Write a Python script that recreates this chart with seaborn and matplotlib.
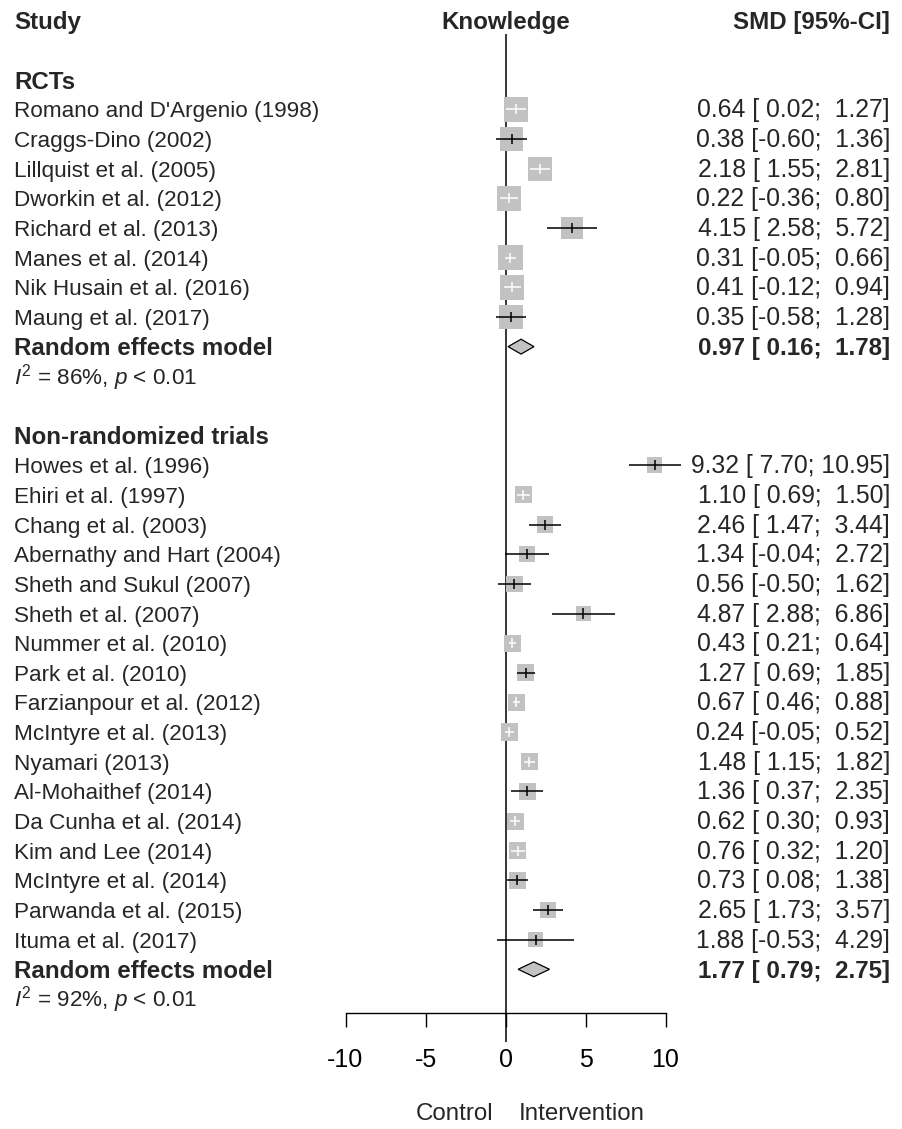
import numpy as np
import pandas as pd
import matplotlib
matplotlib.use("Agg")
import matplotlib.pyplot as plt
import matplotlib.transforms as mtransforms
import seaborn as sns

# ---------------- data ----------------
column_headers = ["Study", "Knowledge", "SMD [95%-CI]"]
group_labels = ["RCTs", "Non-randomized trials"]

rct_studies = ["Romano and D'Argenio (1998)", "Craggs-Dino (2002)", "Lillquist et al. (2005)",
               "Dworkin et al. (2012)", "Richard et al. (2013)", "Manes et al. (2014)",
               "Nik Husain et al. (2016)", "Maung et al. (2017)"]
rct_smd = [0.64, 0.38, 2.18, 0.22, 4.15, 0.31, 0.41, 0.35]
rct_lower = [0.02, -0.60, 1.55, -0.36, 2.58, -0.05, -0.12, -0.58]
rct_upper = [1.27, 1.36, 2.81, 0.80, 5.72, 0.66, 0.94, 1.28]
rct_weight = [12.9, 12.2, 12.7, 12.9, 11.0, 13.2, 13.0, 12.1]
rct_pooled = [0.97, 0.16, 1.78]
rct_i2 = "86%"
rct_p = "< 0.01"

nrt_studies = ["Howes et al. (1996)", "Ehiri et al. (1997)", "Chang et al. (2003)",
               "Abernathy and Hart (2004)", "Sheth and Sukul (2007)", "Sheth et al. (2007)",
               "Nummer et al. (2010)", "Park et al. (2010)", "Farzianpour et al. (2012)",
               "McIntyre et al. (2013)", "Nyamari (2013)", "Al-Mohaithef (2014)",
               "Da Cunha et al. (2014)", "Kim and Lee (2014)", "McIntyre et al. (2014)",
               "Parwanda et al. (2015)", "Ituma et al. (2017)"]
nrt_smd = [9.32, 1.10, 2.46, 1.34, 0.56, 4.87, 0.43, 1.27, 0.67, 0.24, 1.48, 1.36,
           0.62, 0.76, 0.73, 2.65, 1.88]
nrt_lower = [7.70, 0.69, 1.47, -0.04, -0.50, 2.88, 0.21, 0.69, 0.46, -0.05, 1.15, 0.37,
             0.30, 0.32, 0.08, 1.73, -0.53]
nrt_upper = [10.95, 1.50, 3.44, 2.72, 1.62, 6.86, 0.64, 1.85, 0.88, 0.52, 1.82, 2.35,
             0.93, 1.20, 1.38, 3.57, 4.29]
nrt_weight = [5.2, 6.3, 5.8, 5.6, 5.7, 4.8, 6.4, 6.1, 6.4, 6.4, 6.3, 5.9, 6.3, 6.2,
              6.0, 5.9, 5.0]
nrt_pooled = [1.77, 0.79, 2.75]
nrt_i2 = "92%"
nrt_p = "< 0.01"

x_ticks = [-10, -5, 0, 5, 10]
x_label_left = "Control"
x_label_right = "Intervention"

# ---------------- style ----------------
sns.set_style("white")
plt.rcParams["font.family"] = ["Liberation Sans", "DejaVu Sans"]
plt.rcParams["mathtext.fontset"] = "custom"
plt.rcParams["mathtext.rm"] = "Liberation Sans"
plt.rcParams["mathtext.it"] = "Liberation Sans:italic"
plt.rcParams["axes.unicode_minus"] = False

W, H, DPI = 902, 1129, 100
ROW0, ROWH = 20.5, 29.65          # pixel centre of row 0, row height
AXIS_PX = 1013                    # pixel y of x-axis line
X0_PX, X1_PX = 345.5, 665.5       # pixel x of -10 and 10
FS = 16.2
FSB = 17.4
FSN = 17.8
FST = 18.0
FSC = 17.4
GRAY = "#C2C2C2"
PX_PER_UNIT = (X1_PX - X0_PX) / 20.0
BOX_K = 6.8                       # px per sqrt(weight)


def row_of_px(py):
    return (py - ROW0) / ROWH


# ---------------- build rows ----------------
groups = [
    (group_labels[0], rct_studies, rct_smd, rct_lower, rct_upper, rct_weight, rct_pooled, rct_i2, rct_p),
    (group_labels[1], nrt_studies, nrt_smd, nrt_lower, nrt_upper, nrt_weight, nrt_pooled, nrt_i2, nrt_p),
]
recs, pooled_recs, label_recs = [], [], []
r = 2
for gname, st, est, lo, hi, w, pooled, i2, p in groups:
    label_recs.append((r, gname))
    r += 1
    for s, e, l, h, ww in zip(st, est, lo, hi, w):
        recs.append(dict(study=s, smd=e, lower=l, upper=h, weight=ww, row=r))
        r += 1
    pooled_recs.append(dict(smd=pooled[0], lower=pooled[1], upper=pooled[2], row=r, i2=i2, p=p))
    r += 3

df = pd.DataFrame(recs)
df["box_px"] = BOX_K * np.sqrt(df["weight"])
df["box_pt"] = df["box_px"] * 72.0 / DPI
ci_px = (df["upper"] - df["lower"]) * PX_PER_UNIT
df["ci_col"] = np.where(ci_px <= df["box_px"], "white", "black")

# ---------------- figure ----------------
fig = plt.figure(figsize=(W / DPI, H / DPI), dpi=DPI)
ax = fig.add_axes([X0_PX / W, (H - AXIS_PX) / H, (X1_PX - X0_PX) / W, AXIS_PX / H])
ax.patch.set_visible(False)
ax.set_xlim(-10, 10)
ax.set_ylim(row_of_px(AXIS_PX), row_of_px(0))

# reference line
ax.vlines(0, row_of_px(34), row_of_px(1042), color="black", lw=1.1, zorder=1, clip_on=False)

# study squares
size_map = {v: v ** 2 for v in df["box_pt"]}
sns.scatterplot(data=df, x="smd", y="row", size="box_pt", sizes=size_map, marker="s",
                color=GRAY, linewidth=0, legend=False, ax=ax, zorder=3, clip_on=False)

# CIs and point ticks
ax.hlines(df["row"], df["lower"], df["upper"], colors=df["ci_col"], lw=1.1, zorder=4, clip_on=False)
ax.vlines(df["smd"], df["row"] - 0.17, df["row"] + 0.17, colors=df["ci_col"], lw=1.1,
          zorder=4, clip_on=False)

# pooled diamonds
for pr in pooled_recs:
    hh = 0.25
    ax.fill([pr["lower"], pr["smd"], pr["upper"], pr["smd"]],
            [pr["row"], pr["row"] - hh, pr["row"], pr["row"] + hh],
            facecolor=GRAY, edgecolor="black", lw=0.9, zorder=3, clip_on=False)

# axis
sns.despine(ax=ax, left=True, top=True, right=True)
ax.spines["bottom"].set_bounds(-10, 10)
ax.spines["bottom"].set_linewidth(1.0)
ax.spines["bottom"].set_color("black")
ax.set_xticks(x_ticks)
ax.set_xticklabels([str(t) for t in x_ticks])
ax.set_yticks([])
ax.tick_params(axis="x", bottom=True, direction="out", length=10, width=1.0, pad=15,
               labelsize=FST, colors="black")
ax.set_xlabel("")
ax.set_ylabel("")

# ---------------- text ----------------
tr = mtransforms.blended_transform_factory(fig.transFigure, ax.transData)
XL = 14 / W
XR = 890 / W
BREG = 8.0 / ROWH
BBOLD = 8.8 / ROWH

ax.text(XL, 0 + BBOLD, column_headers[0], transform=tr, ha="left", va="baseline",
        fontsize=FSB, fontweight="bold", clip_on=False)
ax.text(0, 0 + BBOLD, column_headers[1], ha="center", va="baseline",
        fontsize=FSB, fontweight="bold", clip_on=False)
ax.text(XR, 0 + BBOLD, column_headers[2], transform=tr, ha="right", va="baseline",
        fontsize=FSB, fontweight="bold", clip_on=False)

for rr, lab in label_recs:
    ax.text(XL, rr + BBOLD, lab, transform=tr, ha="left", va="baseline",
            fontsize=FSB, fontweight="bold", clip_on=False)

for _, rec in df.iterrows():
    ax.text(XL, rec["row"] + BREG, rec["study"], transform=tr, ha="left", va="baseline",
            fontsize=FS, clip_on=False)
    ax.text(XR, rec["row"] + BREG,
            f"{rec['smd']:.2f} [{rec['lower']:5.2f}; {rec['upper']:5.2f}]",
            transform=tr, ha="right", va="baseline", fontsize=FSN, clip_on=False)

for pr in pooled_recs:
    ax.text(XL, pr["row"] + BBOLD, "Random effects model", transform=tr, ha="left",
            va="baseline", fontsize=FSB, fontweight="bold", clip_on=False)
    ax.text(XR, pr["row"] + BBOLD,
            f"{pr['smd']:.2f} [{pr['lower']:5.2f}; {pr['upper']:5.2f}]",
            transform=tr, ha="right", va="baseline", fontsize=FSB, fontweight="bold",
            clip_on=False)
    ax.text(XL, pr["row"] + 1 + BREG,
            r"$\mathit{I}^{2}$" + f" = {pr['i2']}, " + r"$\mathit{p}$" + f" {pr['p']}",
            transform=tr, ha="left", va="baseline", fontsize=FS, clip_on=False)

ax.text(-0.75, row_of_px(1120), x_label_left, ha="right", va="baseline", fontsize=FSC,
        clip_on=False)
ax.text(0.81, row_of_px(1120), x_label_right, ha="left", va="baseline", fontsize=FSC,
        clip_on=False)

fig.savefig("out.png", dpi=DPI)
